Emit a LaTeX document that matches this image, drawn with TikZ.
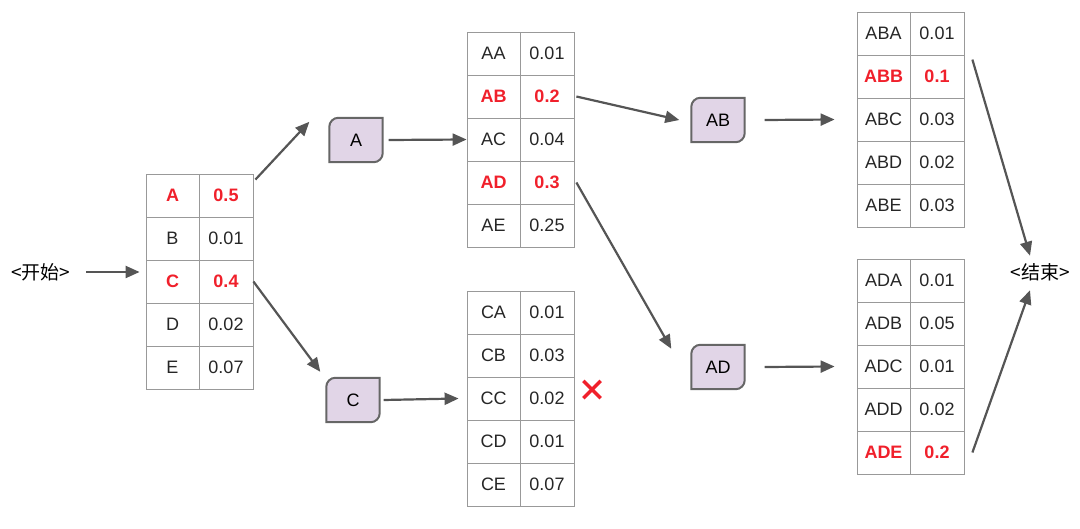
\documentclass[tikz,border=0pt]{standalone}
\usepackage{fontspec}
\setmainfont{Liberation Sans}
\newfontfamily\cjk{Noto Sans CJK SC}
\usetikzlibrary{backgrounds,arrows.meta}
\definecolor{rd}{HTML}{F0202B}
\definecolor{pu}{HTML}{E1D5E7}
\definecolor{dg}{HTML}{555555}
\tikzset{
 cell/.style={draw=black!40,line width=0.8pt,minimum height=43pt,inner sep=0pt,font=\fontsize{18}{18}\selectfont},
 n/.style={text=black!85},
 r/.style={text=rd,font=\fontsize{18}{18}\selectfont\bfseries},
 st/.style={minimum width=53pt,minimum height=44pt,inner sep=0pt,font=\fontsize{18}{18}\selectfont},
 ar/.style={draw=dg,line width=2.2pt,-{Triangle[length=14pt,width=12pt]}},
 lb/.style={font=\fontsize{19}{19}\selectfont},
}
\newcommand\mytab[4]{%
 \foreach \a/\b/\c [count=\i] in {#4} {
  \node[cell,\c,minimum width=53pt] (#1-\i-1) at (#2+26.5,528-#3-21.5-\i*43+43) {\a};
  \node[cell,\c,minimum width=54pt] (#1-\i-2) at (#2+80,528-#3-21.5-\i*43+43) {\b};
 }}
\newcommand\stnode[3]{%
 \node[st] (#1) at (#2,528-#3) {#1};
 \begin{scope}[on background layer]
 \filldraw[fill=pu,draw=black!60,line width=2pt] (#1.north) -- (#1.north east) -- ([yshift=9pt]#1.south east) arc(0:-90:9pt) -- (#1.south west) -- ([yshift=-9pt]#1.north west) arc(180:90:9pt) -- cycle;
 \end{scope}}
\begin{document}
\begin{tikzpicture}[x=1pt,y=1pt]
\useasboundingbox (0,0) rectangle (1080,528);
\mytab{t}{146}{174}{A/0.5/r,B/0.01/n,C/0.4/r,D/0.02/n,E/0.07/n}
\mytab{u}{467}{32}{AA/0.01/n,AB/0.2/r,AC/0.04/n,AD/0.3/r,AE/0.25/n}
\mytab{v}{467}{291}{CA/0.01/n,CB/0.03/n,CC/0.02/n,CD/0.01/n,CE/0.07/n}
\mytab{w}{857}{12}{ABA/0.01/n,ABB/0.1/r,ABC/0.03/n,ABD/0.02/n,ABE/0.03/n}
\mytab{x}{857}{259}{ADA/0.01/n,ADB/0.05/n,ADC/0.01/n,ADD/0.02/n,ADE/0.2/r}
\stnode{A}{356}{140}
\stnode{C}{353}{400}
\stnode{AB}{718}{120}
\stnode{AD}{718}{367}
\node[lb] (S) at (41,528-272) {\cjk <开始>};
\node[lb] (E) at (1040,528-272) {\cjk <结束>};
\node[text=rd,font=\fontsize{30}{30}\selectfont\bfseries] (X) at (592,528-391) {\cjk ×};
\draw[ar] ([xshift=12pt]S.east) -- ([xshift=-6pt]S.east -| t-3-1.west);
\draw[ar] ([xshift=2pt,yshift=-6pt]t-1-2.north east) -- ([xshift=-20pt,yshift=-4pt]A.north west);
\draw[ar] (t-3-2.east) -- ([xshift=-6pt,yshift=6pt]C.north west);
\draw[ar] ([xshift=6pt]A.east) -- (u-3-1.west);
\draw[ar] ([xshift=4pt]C.east) -- ([xshift=-8pt]v-3-1.west);
\draw[ar] ([xshift=2pt]u-2-2.east) -- ([xshift=-12pt]AB.west);
\draw[ar] ([xshift=2pt]u-4-2.east) -- ([xshift=-20pt,yshift=-4pt]AD.north west);
\draw[ar] ([xshift=20pt]AB.east) -- ([xshift=-22pt]w-3-1.west);
\draw[ar] ([xshift=20pt]AD.east) -- ([xshift=-22pt]x-3-1.west);
\draw[ar] ([xshift=8pt,yshift=-5pt]w-2-2.north east) -- ([xshift=-10pt,yshift=4pt]E.north);
\draw[ar] ([xshift=8pt]x-5-2.east) -- ([xshift=-10pt,yshift=-6pt]E.south);
\end{tikzpicture}
\end{document}
